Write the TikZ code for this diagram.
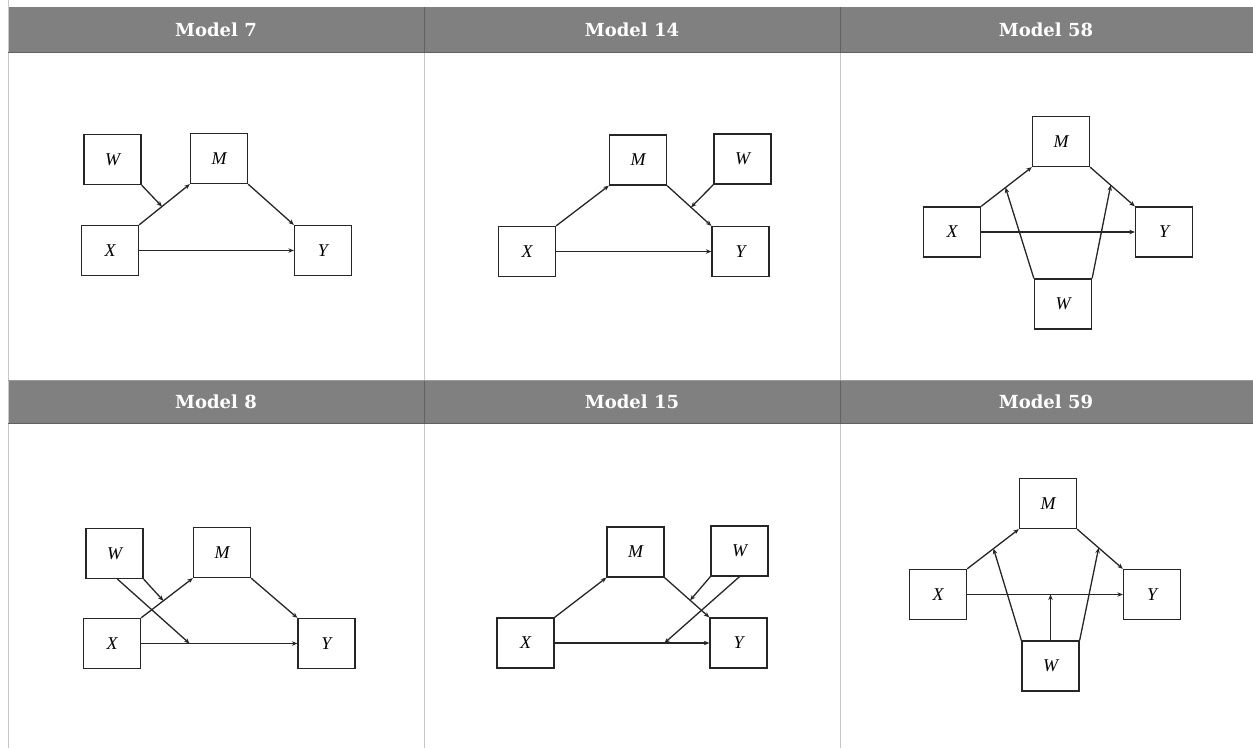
\documentclass[tikz,border=0pt]{standalone}
\usepackage{fontspec}
\usetikzlibrary{arrows.meta,calc}
\newfontfamily\headfont{DejaVu Serif}
\newfontfamily\varfont{Liberation Serif}
\begin{document}
\begin{tikzpicture}[x=1pt,y=-1pt,
  box/.style={draw=black!85,line width=1.3pt,minimum width=57pt,minimum height=50pt,
    inner sep=0pt,font=\fontsize{18}{18}\selectfont\varfont\itshape},
  arr/.style={draw=black!85,line width=1.3pt,-{Stealth[length=5.5pt,width=4.5pt]}},
  headbar/.style={fill=black!50!white,draw=none},
  headtext/.style={text=white,font=\fontsize{18}{18}\selectfont\headfont\bfseries},
  grid/.style={draw=black!22,line width=0.8pt},
  headgrid/.style={draw=black!62,line width=1pt}]
\useasboundingbox (0,0) rectangle (1253,748);
\fill[white] (0,0) rectangle (1253,748);

% table frame and header bars
\fill[headbar] (8,7) rectangle (1253,52);
\fill[headbar] (8,380) rectangle (1253,423);
\draw[grid] (8,0) -- (8,748);
\draw[grid] (424,52) -- (424,380) (424,423) -- (424,748);
\draw[grid] (840,52) -- (840,380) (840,423) -- (840,748);
\draw[headgrid] (424,7) -- (424,52) (424,380) -- (424,423);
\draw[headgrid] (840,7) -- (840,52) (840,380) -- (840,423);
\draw[draw=black!62,line width=1pt] (8,52) -- (1253,52) (8,423) -- (1253,423);
\draw[draw=black!40,line width=0.8pt] (8,380) -- (1253,380);

\node[headtext] (h7) at (216,29.5) {Model 7};
\node[headtext] (h14) at (632,29.5) {Model 14};
\node[headtext] (h58) at (1046,29.5) {Model 58};
\node[headtext] (h8) at (216,401.5) {Model 8};
\node[headtext] (h15) at (632,401.5) {Model 15};
\node[headtext] (h59) at (1046,401.5) {Model 59};

% Model 7
\node[box] (aW) at (112.5,159.5) {W};
\node[box] (aM) at (219,158.5) {M};
\node[box] (aX) at (110,250.5) {X};
\node[box] (aY) at (323,250.5) {Y};
\draw[arr] (aX.north east) -- (aM.south west);
\draw[arr] (aM.south east) -- (aY.north west);
\draw[arr] (aX.east) -- (aY.west);
\coordinate (aP) at ($(aX.north east)!0.45!(aM.south west)$);
\draw[arr] (aW.south east) -- (aP);

% Model 14
\node[box] (bM) at (638,160) {M};
\node[box] (bW) at (742.5,159) {W};
\node[box] (bX) at (527,251.5) {X};
\node[box] (bY) at (740.5,251.5) {Y};
\draw[arr] (bX.north east) -- (bM.south west);
\draw[arr] (bM.south east) -- (bY.north west);
\draw[arr] (bX.east) -- (bY.west);
\coordinate (bP) at ($(bM.south east)!0.54!(bY.north west)$);
\draw[arr] (bW.south west) -- (bP);

% Model 58
\node[box] (cM) at (1061,141.5) {M};
\node[box] (cX) at (952,232) {X};
\node[box] (cY) at (1164,232) {Y};
\node[box] (cW) at (1063,304) {W};
\draw[arr] (cX.north east) -- (cM.south west);
\draw[arr] (cM.south east) -- (cY.north west);
\draw[arr] (cX.east) -- (cY.west);
\coordinate (cP) at ($(cX.north east)!0.48!(cM.south west)$);
\coordinate (cQ) at ($(cM.south east)!0.46!(cY.north west)$);
\draw[arr] (cW.north west) -- (cP);
\draw[arr] (cW.north east) -- (cQ);

% Model 8
\node[box] (dW) at (114.5,553.5) {W};
\node[box] (dM) at (222,552.5) {M};
\node[box] (dX) at (112,643.5) {X};
\node[box] (dY) at (326.5,643.5) {Y};
\draw[arr] (dX.north east) -- (dM.south west);
\draw[arr] (dM.south east) -- (dY.north west);
\draw[arr] (dX.east) -- (dY.west);
\coordinate (dP) at ($(dX.north east)!0.43!(dM.south west)$);
\coordinate (dQ) at ($(dX.east)!0.31!(dY.west)$);
\coordinate (dS) at ($(dW.south)+(3,0)$);
\draw[arr] (dW.south east) -- (dP);
\draw[arr] (dS) -- (dQ);

% Model 15
\node[box] (eM) at (635.5,552) {M};
\node[box] (eW) at (739.5,551) {W};
\node[box] (eX) at (525.5,643) {X};
\node[box] (eY) at (738.5,643) {Y};
\draw[arr] (eX.north east) -- (eM.south west);
\draw[arr] (eM.south east) -- (eY.north west);
\draw[arr] (eX.east) -- (eY.west);
\coordinate (eP) at ($(eM.south east)!0.57!(eY.north west)$);
\coordinate (eQ) at ($(eX.east)!0.71!(eY.west)$);
\draw[arr] (eW.south west) -- (eP);
\draw[arr] (eW.south) -- (eQ);

% Model 59
\node[box] (fM) at (1048,503.5) {M};
\node[box] (fX) at (938,594.5) {X};
\node[box] (fY) at (1152,594.5) {Y};
\node[box] (fW) at (1050.5,666) {W};
\draw[arr] (fX.north east) -- (fM.south west);
\draw[arr] (fM.south east) -- (fY.north west);
\draw[arr] (fX.east) -- (fY.west);
\coordinate (fP) at ($(fX.north east)!0.51!(fM.south west)$);
\coordinate (fQ) at ($(fM.south east)!0.47!(fY.north west)$);
\coordinate (fR) at (fX.east -| fW.north);
\draw[arr] (fW.north west) -- (fP);
\draw[arr] (fW.north east) -- (fQ);
\draw[arr] (fW.north) -- (fR);
\end{tikzpicture}
\end{document}
